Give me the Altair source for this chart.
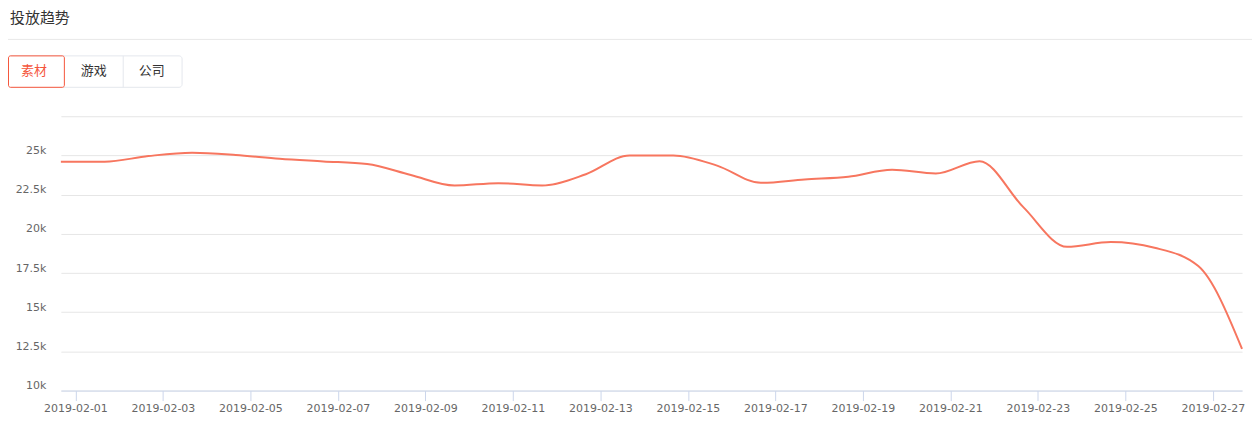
import altair as alt
import pandas as pd

# ---- data ----
dates = [f"2019-02-{d:02d}" for d in range(1, 29)]
values = [24600, 24600, 24960, 25170, 25030, 24790, 24620, 24450, 23750, 23080,
          23230, 23080, 23800, 25000, 25000, 24350, 23250, 23470, 23640, 24090,
          23850, 24630, 21700, 19170, 19470, 19110, 17940, 12660]
tick_days = list(range(1, 28, 2))
y_ticks = [10000, 12500, 15000, 17500, 20000, 22500, 25000, 27500]
title_text = "投放趋势"
tabs = ["素材", "游戏", "公司"]

# timestamps recorded in China time (UTC+8)
df = pd.DataFrame({"date": [d + "T00:00:00+08:00" for d in dates], "value": values})

FONT = "DejaVu Sans"
CJK = "Noto Sans CJK SC"
LINE = "#f7765f"
RED = "#f5553b"
one = pd.DataFrame({"k": [0]})

line = alt.Chart(df).mark_line(
    color=LINE, strokeWidth=2, interpolate="monotone"
).encode(
    x=alt.X("date:T",
            scale=alt.Scale(type="utc", nice=False, padding=0),
            axis=alt.Axis(
                title=None,
                values=[alt.DateTime(year=2019, month=2, date=d, utc=True) for d in tick_days],
                labelExpr="utcFormat(datum.value, '%Y-%m-%d')",
                grid=False, domainColor="#ccd6eb", tickColor="#ccd6eb",
                tickSize=10, labelPadding=2, labelFont=FONT, labelFontSize=11,
                labelColor="#666666", labelFlush=False)),
    y=alt.Y("value:Q",
            scale=alt.Scale(domain=[10000, 27500], nice=False, zero=False),
            axis=alt.Axis(
                title=None, values=y_ticks,
                labelExpr="datum.value >= 27500 ? '' : format(datum.value/1000, '~g') + 'k'",
                domain=False, ticks=False, grid=True, gridColor="#e6e6e6",
                labelFont=FONT, labelFontSize=11, labelColor="#666666",
                labelPadding=15, labelBaseline="middle", labelOffset=-5)),
)

title = alt.Chart(one).mark_text(
    text=title_text, font=CJK, fontSize=15, color="#333333", align="left", baseline="middle"
).encode(x=alt.value(-51), y=alt.value(-98))

sep = alt.Chart(one).mark_rule(color="#e8e8e8", strokeWidth=1).encode(
    x=alt.value(-53), x2=alt.value(1194), y=alt.value(-77))

tab_box = alt.Chart(one).mark_rect(
    fill="white", stroke="#e4e7ed", strokeWidth=1, cornerRadius=3
).encode(x=alt.value(-52.5), x2=alt.value(121.5), y=alt.value(-60.5), y2=alt.value(-29))

tab_div = alt.Chart(one).mark_rule(color="#e4e7ed", strokeWidth=1).encode(
    x=alt.value(62.5), y=alt.value(-60.5), y2=alt.value(-29))

tab_sel = alt.Chart(one).mark_rect(
    fill="white", stroke=RED, strokeWidth=1, cornerRadius=2
).encode(x=alt.value(-52.5), x2=alt.value(3.5), y=alt.value(-60.5), y2=alt.value(-29))

tab_texts = []
for name, xc, col in zip(tabs, [-27, 33, 91], [RED, "#333333", "#333333"]):
    tab_texts.append(alt.Chart(one).mark_text(
        text=name, font=CJK, fontSize=13, color=col, align="center", baseline="middle"
    ).encode(x=alt.value(xc), y=alt.value(-45)))

chart = alt.layer(
    line, title, sep, tab_box, tab_div, tab_sel, *tab_texts
).properties(
    width=1184, height=275,
    autosize=alt.AutoSizeParams(type="none"),
    padding={"left": 53, "top": 108, "right": 10, "bottom": 28},
    background="white",
).configure_view(stroke=None)

chart.save("out.html", embed_options={"renderer": "svg", "actions": False})
